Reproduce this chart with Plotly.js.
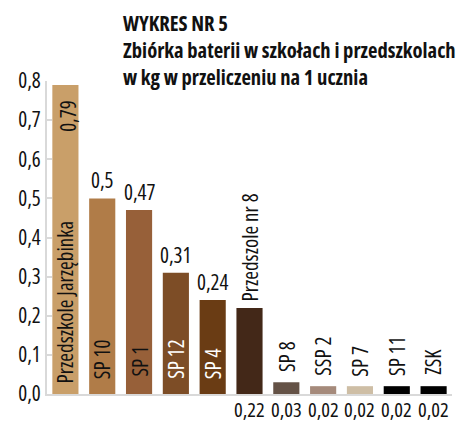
<!DOCTYPE html>
<html>
<head>
<meta charset="utf-8">
<script src="https://cdn.plot.ly/plotly-3.0.1.min.js"></script>
<style>
  html, body { margin: 0; padding: 0; background: #fff; }
  #chart { width: 460px; height: 423px; }
  text, tspan { font-stretch: 75%; }
</style>
</head>
<body>
<div id="chart"></div>
<script>
// ---- data ----
const categories = ['Przedszkole Jarzębinka', 'SP 10', 'SP 1', 'SP 12', 'SP 4', 'Przedszole nr 8', 'SP 8', 'SSP 2', 'SP 7', 'SP 11', 'ZSK'];
const values = [0.79, 0.5, 0.47, 0.31, 0.24, 0.22, 0.03, 0.02, 0.02, 0.02, 0.02];
const valueLabels = ['0,79', '0,5', '0,47', '0,31', '0,24', '0,22', '0,03', '0,02', '0,02', '0,02', '0,02'];
const yTickValues = [0, 0.1, 0.2, 0.3, 0.4, 0.5, 0.6, 0.7, 0.8];
const yTickLabels = ['0,0', '0,1', '0,2', '0,3', '0,4', '0,5', '0,6', '0,7', '0,8'];
const titleLines = ['WYKRES NR 5', 'Zbiórka baterii w szkołach i przedszkolach', 'w kg w przeliczeniu na 1 ucznia'];

// ---- styles ----
const barColors = ['#C99F69', '#B07C48', '#976039', '#7D4D26', '#6A3C14', '#432818', '#645246', '#A58A7B', '#CEBEA5', '#000000', '#000000'];
const nameColors = ['#111', '#111', '#111', '#fff', '#fff', '#111', '#111', '#111', '#111', '#111', '#111'];
const namePlacement = ['inside', 'inside', 'inside', 'inside', 'inside', 'outside', 'outside', 'outside', 'outside', 'outside', 'outside'];
const nameShift = [10, 14, 16, 14, 14, 5, 9, 9, 9, 9, 10];
const valuePlacement = ['insideTop', 'above', 'above', 'above', 'above', 'below', 'below', 'below', 'below', 'below', 'below'];

const FONT = '"Open Sans", "Roboto Condensed", sans-serif';
const LABEL_SIZE = 21;

const annotations = [];
categories.forEach((c, i) => {
  annotations.push({
    x: c, y: namePlacement[i] === 'inside' ? 0 : values[i],
    xref: 'x', yref: 'y', text: c, showarrow: false, textangle: -90,
    xanchor: 'center', yanchor: 'bottom', borderpad: 0,
    yshift: nameShift[i],
    font: { family: FONT, size: LABEL_SIZE, color: nameColors[i] }
  });
  const v = { x: c, xref: 'x', yref: 'y', text: valueLabels[i], showarrow: false, borderpad: 0,
    font: { family: FONT, size: LABEL_SIZE, color: '#111' } };
  if (valuePlacement[i] === 'insideTop') {
    Object.assign(v, { y: values[i], textangle: -90, xanchor: 'center', yanchor: 'top', yshift: -15, xshift: 3 });
  } else if (valuePlacement[i] === 'above') {
    Object.assign(v, { y: values[i], xanchor: 'center', yanchor: 'bottom', yshift: 3 });
  } else {
    Object.assign(v, { y: 0, xanchor: 'center', yanchor: 'top', yshift: 0,
      font: { family: FONT, size: 20.5, color: '#111' } });
  }
  annotations.push(v);
});

// title as a left-aligned annotation
annotations.push({
  xref: 'paper', yref: 'paper',
  x: (122 - 47) / 405, y: (394 - 8) / 313,
  xanchor: 'left', yanchor: 'top', align: 'left',
  showarrow: false, borderpad: 0,
  text: titleLines.map(t => '<b>' + t + '</b>').join('<br>'),
  font: { family: FONT, size: 20.6, color: '#111' }
});

const trace = {
  type: 'bar',
  x: categories,
  y: values,
  marker: { color: barColors, line: { width: 0 } },
  hoverinfo: 'none'
};

const layout = {
  width: 460, height: 423,
  margin: { l: 47, r: 8, t: 81, b: 29, pad: 0 },
  paper_bgcolor: '#fff', plot_bgcolor: '#fff',
  bargap: 0.29,
  showlegend: false,
  font: { family: FONT, size: LABEL_SIZE, color: '#111' },
  xaxis: {
    type: 'category',
    showticklabels: false, ticks: '',
    showline: true, linecolor: '#d9d9d9', linewidth: 1.5,
    showgrid: false, zeroline: false, fixedrange: true
  },
  yaxis: {
    range: [0, 0.8],
    tickvals: yTickValues, ticktext: yTickLabels,
    ticks: 'inside', ticklen: 5, tickwidth: 2, tickcolor: '#d9d9d9',
    showline: true, linecolor: '#d9d9d9', linewidth: 2,
    showgrid: false, zeroline: false,
    tickfont: { family: FONT, size: 21, color: '#111' },
    fixedrange: true
  },
  annotations: annotations
};

Plotly.newPlot('chart', [trace], layout, { displayModeBar: false, staticPlot: true });
</script>
</body>
</html>
